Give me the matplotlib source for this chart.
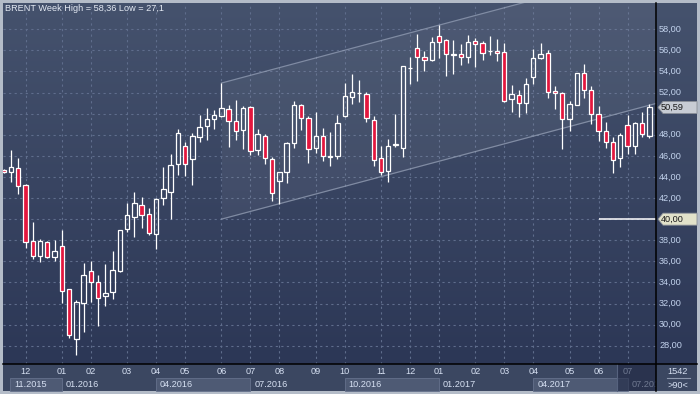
import matplotlib
matplotlib.use('Agg')
import matplotlib.pyplot as plt
from matplotlib.patches import Rectangle, Polygon
from matplotlib.colors import LinearSegmentedColormap
import matplotlib.transforms as mtransforms
import numpy as np

# ---------------- data (weekly OHLC, BRENT) ----------------
opens = [44.70, 44.44, 44.82, 43.24, 37.93, 36.53, 37.81, 36.44, 37.45, 33.35,
         28.64, 32.08, 35.06, 34.01, 32.74, 33.12, 35.11, 39.10, 40.23, 41.31,
         40.46, 38.62, 41.98, 42.60, 45.20, 46.94, 45.73, 47.82, 48.80, 49.47,
         49.81, 50.42, 49.31, 48.48, 50.60, 46.53, 47.86, 45.70, 43.65, 44.44,
         47.19, 50.79, 49.56, 46.72, 47.86, 45.89, 46.02, 49.81, 51.61, 51.93,
         51.87, 49.40, 45.83, 44.59, 47.00, 46.72, 54.30, 56.23, 55.35, 55.09,
         57.36, 56.99, 55.56, 55.66, 55.40, 56.86, 56.67, 55.92, 55.97, 55.82,
         51.42, 51.74, 50.98, 53.51, 55.25, 55.72, 52.15, 51.93, 49.47, 50.85,
         53.83, 52.22, 49.94, 48.36, 47.29, 45.77, 48.96, 46.94, 49.09, 47.89]
highs = [44.80, 46.56, 45.83, 43.30, 39.76, 38.12, 37.96, 38.02, 38.97, 33.40,
         32.34, 35.81, 36.03, 34.71, 35.75, 36.98, 39.00, 41.53, 42.58, 42.10,
         41.06, 41.98, 44.92, 46.18, 48.58, 47.32, 48.20, 49.90, 50.54, 50.35,
         52.88, 50.82, 51.30, 50.73, 50.73, 48.52, 48.07, 45.92, 44.47, 47.34,
         51.17, 50.89, 49.78, 50.13, 48.61, 48.29, 49.88, 52.94, 53.76, 53.19,
         52.08, 49.78, 46.94, 47.60, 49.97, 54.55, 55.40, 57.55, 55.91, 57.24,
         58.36, 57.08, 56.99, 56.61, 57.46, 57.15, 56.89, 57.36, 57.08, 56.67,
         52.72, 52.25, 53.35, 56.10, 56.67, 56.04, 52.63, 52.08, 51.20, 53.85,
         54.71, 52.63, 50.73, 49.18, 47.76, 48.20, 49.88, 49.20, 50.19, 50.92]
lows = [44.40, 43.55, 42.39, 37.24, 36.22, 35.97, 36.29, 36.06, 32.08, 28.76,
        27.10, 29.30, 32.15, 29.90, 31.80, 32.40, 35.00, 38.81, 38.34, 39.19,
        38.53, 37.20, 41.34, 40.04, 44.19, 44.09, 43.24, 47.34, 47.50, 48.55,
        49.71, 46.87, 47.50, 46.65, 46.11, 46.05, 45.20, 41.75, 41.44, 43.46,
        46.77, 48.45, 45.30, 46.30, 45.49, 45.04, 45.67, 49.66, 50.89, 51.14,
        49.24, 45.07, 44.22, 43.55, 46.87, 45.92, 52.79, 53.10, 54.08, 55.02,
        55.31, 53.60, 53.76, 54.62, 54.84, 54.45, 55.09, 55.56, 55.02, 51.14,
        50.19, 49.71, 50.04, 52.79, 55.18, 51.52, 50.42, 46.62, 48.39, 50.82,
        51.46, 48.99, 47.44, 46.72, 44.35, 44.97, 46.15, 46.15, 47.76, 47.67]
closes = [44.50, 44.92, 43.17, 37.86, 36.54, 37.93, 36.44, 36.98, 33.22, 29.04,
          32.12, 34.68, 34.07, 32.55, 33.03, 35.15, 38.97, 40.37, 41.50, 40.42,
          38.72, 41.91, 42.83, 45.11, 48.14, 45.26, 47.88, 48.74, 49.47, 49.85,
          50.51, 49.28, 48.39, 50.51, 46.43, 48.05, 45.77, 42.45, 44.44, 47.19,
          50.82, 49.56, 46.62, 47.86, 46.02, 45.99, 49.12, 51.65, 52.03, 51.98,
          49.62, 45.61, 44.50, 46.91, 47.10, 54.49, 54.36, 55.35, 55.06, 56.77,
          56.82, 55.63, 55.62, 55.40, 56.77, 56.63, 55.72, 55.97, 55.72, 51.23,
          51.84, 50.98, 52.79, 55.25, 55.63, 52.03, 51.96, 49.47, 50.89, 53.83,
          52.22, 49.97, 48.36, 47.32, 45.61, 47.95, 46.96, 49.09, 48.05, 50.59]

month_ticks = [3, 8, 12, 17, 21, 25, 30, 34, 38, 43, 47, 52, 56, 60, 65, 69, 73, 78, 82, 86]
month_labels = ['12', '01', '02', '03', '04', '05', '06', '07', '08', '09',
                '10', '11', '12', '01', '02', '03', '04', '05', '06', '07']
quarter_starts = [0.85, 8, 21, 34, 47, 60, 73, 86]
quarter_labels = ['11.2015', '01.2016', '04.2016', '07.2016', '10.2016',
                  '01.2017', '04.2017', '07.2017']
price_ticks = [28, 30, 32, 34, 36, 38, 40, 42, 44, 46, 48, 50, 52, 54, 56, 58]

channel_start = 30
channel_upper0 = 52.9
channel_lower0 = 40.0
channel_slope = 0.183
level_price = 40.0
level_start = 82
title = 'BRENT Week High = 58,36 Low = 27,1'
counter_text = '1542'
zoom_text = '>90<'

# ---------------- figure ----------------
FONT = 'Liberation Sans'
FS = 6.6
W, H = 700, 394
fig = plt.figure(figsize=(7, 3.94), dpi=100, facecolor='#b4bcc8')

bg = fig.add_axes([0, 0, 1, 1], zorder=0)
bg.axis('off')
cmap = LinearSegmentedColormap.from_list('g', ['#45526d', '#2c3756'])
bg.imshow(np.linspace(0, 1, 256)[:, None], cmap=cmap, extent=[3, 697, 364, 3],
          aspect='auto', interpolation='bilinear')
bg.set_xlim(0, W)
bg.set_ylim(H, 0)
# x-axis area background
AXBG = '#3b4761'
bg.add_patch(Rectangle((3, 364), 694, 27, facecolor=AXBG, edgecolor='none'))

XMIN, XMAX = -0.11, 89.92
YMIN, YMAX = 26.27, 60.49
ax = fig.add_axes([3 / W, (H - 364) / H, 653 / W, 361 / H], zorder=1)
ax.patch.set_alpha(0)
ax.set_xlim(XMIN, XMAX)
ax.set_ylim(YMIN, YMAX)
for s in ax.spines.values():
    s.set_visible(False)
ax.set_xticks([])
ax.set_yticks([])

top = fig.add_axes([0, 0, 1, 1], zorder=2)
top.axis('off')
top.patch.set_alpha(0)
top.set_xlim(0, W)
top.set_ylim(H, 0)

tx = mtransforms.blended_transform_factory(ax.transData, bg.transData)
ty = mtransforms.blended_transform_factory(top.transData, ax.transData)

# grid
grid_kw = dict(color='#5f6d8c', lw=0.8, linestyle=(0, (2, 3)), zorder=1)
for p in price_ticks:
    ax.axhline(p, **grid_kw)
for m in month_ticks:
    ax.axvline(m, **grid_kw)

# channel
xs = np.array([channel_start, XMAX])
up = channel_upper0 + channel_slope * (xs - channel_start)
lo = channel_lower0 + channel_slope * (xs - channel_start)
ax.fill_between(xs, lo, up, color='white', alpha=0.05, lw=0, zorder=1.5)
ax.plot(xs, up, color='#9aa5bb', lw=0.9, alpha=0.7, zorder=2)
ax.plot(xs, lo, color='#9aa5bb', lw=0.9, alpha=0.7, zorder=2)

# level line
ax.hlines(level_price, level_start, XMAX, color='white', lw=1.1, zorder=3)

# candles
bw = 0.6
red = '#e3173e'
for i, (o, h, l, c) in enumerate(zip(opens, highs, lows, closes)):
    b_top, b_bot = max(o, c), min(o, c)
    ax.vlines(i, b_top, h, color='white', lw=0.9, zorder=3)
    ax.vlines(i, l, b_bot, color='white', lw=0.9, zorder=3)
    hgt = max(b_top - b_bot, 0.06)
    fc = red if c < o else 'none'
    ax.add_patch(Rectangle((i - bw / 2, b_bot), bw, hgt, facecolor=fc,
                           edgecolor='white', lw=0.9, zorder=4))

# title
top.text(5, 3.5, title, ha='left', va='top', color='#e4eaf4', fontsize=FS, family=FONT)

# right price labels (the ones hidden under the price tags are left out)
for p in price_ticks:
    if p in (40, 50):
        continue
    top.text(659, p, f'{p},00', transform=ty, ha='left', va='center',
             color='#c2d2ec', fontsize=FS, family=FONT)

# month labels
for m, lab in zip(month_ticks, month_labels):
    bg.text(m, 372, lab, transform=tx, ha='center', va='center',
            color='#d6e0f2', fontsize=FS, family=FONT)

# quarter bands and labels
q_ends = quarter_starts[1:] + [XMAX]
off = mtransforms.ScaledTranslation(4 / 100, 0, fig.dpi_scale_trans)
for k, (qs, qe, lab) in enumerate(zip(quarter_starts, q_ends, quarter_labels)):
    if k % 2 == 0:
        bg.add_patch(Rectangle((qs, 377.5), qe - qs, 13.5, transform=tx,
                               facecolor='#4e5a74', edgecolor='#65718c', lw=0.6))
    bg.text(qs, 384.5, lab, transform=tx + off, ha='left', va='center',
            color='#d6e0f2', fontsize=FS, family=FONT)

# dimmed region at the right end of the time axis
top.add_patch(Rectangle((617, 364), 39, 27, facecolor='#1c2440', alpha=0.55,
                        edgecolor='none'))
top.plot([617, 617], [364, 391], color='#56627e', lw=0.8)

# bottom-right box
top.add_patch(Rectangle((656, 364), 41, 27, facecolor=AXBG, edgecolor='none'))
top.text(677.5, 372, counter_text, ha='center', va='center', color='#d6e0f2',
         fontsize=FS, family=FONT)
top.plot([667, 690], [378, 378], color='#8c97ad', lw=0.8)
top.text(677.5, 385, zoom_text, ha='center', va='center', color='#d6e0f2',
         fontsize=FS, family=FONT)

# separators
top.plot([656, 656], [3, 391], color='black', lw=1.1)
top.plot([3, 697], [364, 364], color='black', lw=1.1)


def tag(price, text, fc):
    yc = ax.transData.transform((0, price))[1]
    ypix = H - yc
    pts = [(658, ypix), (663, ypix - 6), (697, ypix - 6), (697, ypix + 6), (663, ypix + 6)]
    top.add_patch(Polygon(pts, closed=True, facecolor=fc, edgecolor='#8a8f98', lw=0.6))
    top.text(661, ypix, text, ha='left', va='center', color='#1a1a1a',
             fontsize=FS, family=FONT)


fig.canvas.draw()
tag(closes[-1], f'{closes[-1]:.2f}'.replace('.', ','), '#c8ccd4')
tag(level_price, f'{level_price:.2f}'.replace('.', ','), '#e2e2ca')

fig.savefig('out.png', dpi=100, facecolor=fig.get_facecolor())
